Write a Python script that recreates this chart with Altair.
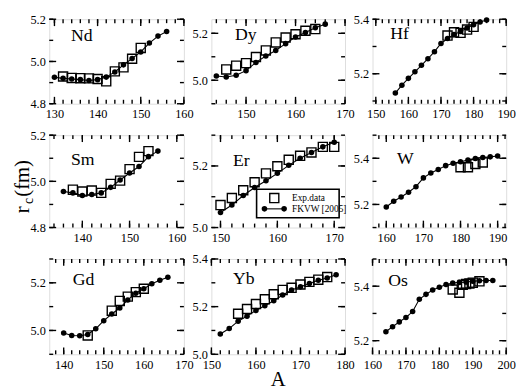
import altair as alt
import pandas as pd

FONT = "Liberation Serif"

# ---------------- data ----------------
nd_th_A = [130, 132, 134, 136, 138, 140, 142, 144, 146, 148, 150, 152, 154, 156]
nd_th_r = [4.925, 4.920, 4.917, 4.914, 4.910, 4.914, 4.926, 4.950, 4.984, 5.014, 5.045, 5.087, 5.120, 5.142]
nd_ex_A = [132, 134, 136, 138, 140, 142, 144, 146, 148, 150]
nd_ex_r = [4.929, 4.922, 4.921, 4.920, 4.917, 4.906, 4.953, 4.972, 5.013, 5.064]

dy_th_A = [144, 146, 148, 150, 152, 154, 156, 158, 160, 162, 164, 166]
dy_th_r = [5.018, 5.014, 5.021, 5.041, 5.076, 5.103, 5.127, 5.156, 5.184, 5.203, 5.224, 5.239]
dy_ex_A = [146, 148, 150, 152, 154, 156, 158, 160, 162, 164]
dy_ex_r = [5.046, 5.062, 5.073, 5.099, 5.127, 5.161, 5.182, 5.196, 5.211, 5.218]

hf_th_A = [156, 158, 160, 162, 164, 166, 168, 170, 172, 174, 176, 178, 180, 182, 184]
hf_th_r = [5.129, 5.158, 5.183, 5.207, 5.231, 5.255, 5.281, 5.311, 5.329, 5.344, 5.355, 5.368, 5.380, 5.390, 5.397]
hf_ex_A = [172, 174, 176, 178, 180]
hf_ex_r = [5.340, 5.352, 5.350, 5.362, 5.372]

sm_th_A = [136, 138, 140, 142, 144, 146, 148, 150, 152, 154, 156]
sm_th_r = [4.956, 4.950, 4.939, 4.943, 4.950, 4.974, 5.006, 5.036, 5.064, 5.107, 5.131]
sm_ex_A = [138, 140, 142, 144, 146, 148, 150, 152, 154]
sm_ex_r = [4.964, 4.956, 4.960, 4.950, 4.989, 5.003, 5.053, 5.106, 5.131]

er_th_A = [150, 152, 154, 156, 158, 160, 162, 164, 166, 168, 170]
er_th_r = [5.049, 5.073, 5.104, 5.130, 5.152, 5.176, 5.202, 5.225, 5.244, 5.262, 5.277]
er_ex_A = [150, 152, 154, 156, 158, 160, 162, 164, 166, 168, 170]
er_ex_r = [5.073, 5.096, 5.121, 5.147, 5.176, 5.199, 5.220, 5.233, 5.244, 5.262, 5.262]

w_th_A = [160, 162, 164, 166, 168, 170, 172, 174, 176, 178, 180, 182, 184, 186, 188, 190]
w_th_r = [5.189, 5.214, 5.232, 5.253, 5.277, 5.315, 5.336, 5.351, 5.368, 5.378, 5.385, 5.392, 5.399, 5.403, 5.406, 5.410]
w_ex_A = [180, 182, 184, 186]
w_ex_r = [5.361, 5.361, 5.375, 5.382]

gd_th_A = [140, 142, 144, 146, 148, 150, 152, 154, 156, 158, 160, 162, 164, 166]
gd_th_r = [4.989, 4.979, 4.978, 4.983, 5.007, 5.041, 5.069, 5.094, 5.128, 5.156, 5.175, 5.196, 5.211, 5.223]
gd_ex_A = [146, 152, 154, 156, 158, 160]
gd_ex_r = [4.979, 5.083, 5.124, 5.142, 5.161, 5.175]

yb_th_A = [152, 154, 156, 158, 160, 162, 164, 166, 168, 170, 172, 174, 176, 178]
yb_th_r = [5.085, 5.108, 5.139, 5.160, 5.184, 5.204, 5.225, 5.249, 5.270, 5.283, 5.297, 5.311, 5.320, 5.334]
yb_ex_A = [156, 158, 160, 162, 164, 166, 168, 170, 172, 174, 176]
yb_ex_r = [5.170, 5.190, 5.211, 5.231, 5.252, 5.270, 5.279, 5.293, 5.304, 5.313, 5.324]

os_th_A = [164, 166, 168, 170, 172, 174, 176, 178, 180, 182, 184, 186, 188, 190, 192, 194, 196]
os_th_r = [5.233, 5.251, 5.269, 5.285, 5.307, 5.352, 5.370, 5.386, 5.396, 5.406, 5.412, 5.414, 5.415, 5.418, 5.420, 5.421, 5.421]
os_ex_A = [184, 186, 187, 188, 189, 190, 192]
os_ex_r = [5.388, 5.376, 5.405, 5.408, 5.410, 5.413, 5.418]

elements = ["Nd", "Dy", "Hf", "Sm", "Er", "W", "Gd", "Yb", "Os"]
x_domains = [[128.8, 160], [143, 170], [149, 190],
             [133, 161.5], [148.4, 171.9], [156.3, 192.3],
             [136.4, 170], [150, 180], [160, 200]]
y_domains = [[4.8, 5.2], [4.9, 5.26], [5.09, 5.4],
             [4.8, 5.2], [5.0, 5.3], [5.1, 5.5],
             [4.9, 5.3], [5.0, 5.4], [5.15, 5.5]]
theory = [(nd_th_A, nd_th_r), (dy_th_A, dy_th_r), (hf_th_A, hf_th_r),
          (sm_th_A, sm_th_r), (er_th_A, er_th_r), (w_th_A, w_th_r),
          (gd_th_A, gd_th_r), (yb_th_A, yb_th_r), (os_th_A, os_th_r)]
expdata = [(nd_ex_A, nd_ex_r), (dy_ex_A, dy_ex_r), (hf_ex_A, hf_ex_r),
           (sm_ex_A, sm_ex_r), (er_ex_A, er_ex_r), (w_ex_A, w_ex_r),
           (gd_ex_A, gd_ex_r), (yb_ex_A, yb_ex_r), (os_ex_A, os_ex_r)]

legend_labels = ["Exp.data", "FKVW [2005]"]
y_title_parts = ["r", "c", "(fm)"]
x_title = "A"

# ---------------- layout (style only) ----------------
col_w = [137, 136, 136]
row_h = [86, 94, 97]
label_pos = [(22, 22), (24, 21), (18, 20),
             (22, 30), (22, 31), (25, 29),
             (24, 26), (22, 25), (16, 27)]


def tick_values(lo, hi, step):
    out = []
    k = int(lo // step) - 1
    while k * step <= hi + 1e-9:
        v = round(k * step, 4)
        if lo - 1e-9 <= v <= hi + 1e-9:
            out.append(v)
        k += 1
    return out


def value_df(vals):
    return pd.DataFrame({"v": vals})


def panel(i):
    w = col_w[i % 3]
    h = row_h[i // 3]
    xd, yd = x_domains[i], y_domains[i]
    xs = alt.Scale(domain=xd, nice=False, zero=False)
    ys = alt.Scale(domain=yd, nice=False, zero=False)
    xmaj = tick_values(xd[0], xd[1], 10)
    xmin = tick_values(xd[0], xd[1], 2)
    ymaj = tick_values(yd[0], yd[1], 0.2)
    ymin = tick_values(yd[0], yd[1], 0.1)
    xaxis = alt.Axis(values=xmaj, format="d", ticks=False, domain=False, grid=False,
                     labelFont=FONT, labelFontSize=12.5, labelPadding=4, labelColor="black",
                     labelFlush=False, labelOverlap=False, title=None)
    yaxis = alt.Axis(values=ymaj, format=".1f", ticks=False, domain=False, grid=False,
                     labelFont=FONT, labelFontSize=12.5, labelPadding=4, labelColor="black",
                     labelFlush=False, labelOverlap=False, title=None)
    X = lambda f: alt.X(f, scale=xs, axis=xaxis)
    Y = lambda f: alt.Y(f, scale=ys, axis=yaxis)

    layers = []
    for vals, L in ((xmaj, 7), (xmin, 4)):
        d = value_df(vals)
        layers.append(alt.Chart(d).mark_rule(color="black", strokeWidth=1.4).encode(
            x=X("v:Q"), y=alt.value(h), y2=alt.value(h - L)))
        layers.append(alt.Chart(d).mark_rule(color="black", strokeWidth=1.4).encode(
            x=X("v:Q"), y=alt.value(0), y2=alt.value(L)))
    for vals, L in ((ymaj, 7), (ymin, 4)):
        d = value_df(vals)
        layers.append(alt.Chart(d).mark_rule(color="black", strokeWidth=1.4).encode(
            y=Y("v:Q"), x=alt.value(0), x2=alt.value(L)))
        layers.append(alt.Chart(d).mark_rule(color="black", strokeWidth=1.4).encode(
            y=Y("v:Q"), x=alt.value(w), x2=alt.value(w - L)))

    ex = pd.DataFrame({"A": expdata[i][0], "r": expdata[i][1]})
    th = pd.DataFrame({"A": theory[i][0], "r": theory[i][1]})
    layers.append(alt.Chart(ex).mark_point(shape="square", filled=False, size=85, color="black",
                                           strokeWidth=1.4, opacity=1).encode(x=X("A:Q"), y=Y("r:Q")))
    layers.append(alt.Chart(th).mark_line(color="black", strokeWidth=1.1).encode(x=X("A:Q"), y=Y("r:Q")))
    layers.append(alt.Chart(th).mark_circle(size=32, color="black", opacity=1).encode(x=X("A:Q"), y=Y("r:Q")))

    lx, ly = label_pos[i]
    layers.append(alt.Chart(pd.DataFrame({"t": [elements[i]]})).mark_text(
        align="left", baseline="alphabetic", font=FONT, fontSize=18, color="black").encode(
        text="t:N", x=alt.value(lx), y=alt.value(ly)))

    if elements[i] == "Er":
        one = pd.DataFrame({"k": [0]})
        layers.append(alt.Chart(one).mark_rect(fill="white", stroke="black", strokeWidth=1.6).encode(
            x=alt.value(46), x2=alt.value(130), y=alt.value(55), y2=alt.value(84)))
        layers.append(alt.Chart(one).mark_point(shape="square", filled=False, size=85, color="black",
                                                strokeWidth=1.4, opacity=1).encode(
            x=alt.value(64), y=alt.value(64)))
        layers.append(alt.Chart(one).mark_rule(color="black", strokeWidth=1.1).encode(
            x=alt.value(54), x2=alt.value(74), y=alt.value(75)))
        for cx in (54, 74):
            layers.append(alt.Chart(one).mark_circle(size=32, color="black", opacity=1).encode(
                x=alt.value(cx), y=alt.value(75)))
        for txt, ty in zip(legend_labels, (64, 75)):
            layers.append(alt.Chart(pd.DataFrame({"t": [txt]})).mark_text(
                align="left", baseline="middle", font=FONT, fontSize=9.5, color="black").encode(
                text="t:N", x=alt.value(82), y=alt.value(ty)))

    if elements[i] == "Sm":
        for txt, tx, ty, fs in ((y_title_parts[0], -21, 76, 21),
                                (y_title_parts[1], -17, 67, 14),
                                (y_title_parts[2], -21, 44, 21)):
            layers.append(alt.Chart(pd.DataFrame({"t": [txt]})).mark_text(
                align="center", baseline="alphabetic", angle=270, font=FONT, fontSize=fs,
                color="black").encode(text="t:N", x=alt.value(tx), y=alt.value(ty)))

    if elements[i] == "Yb":
        layers.append(alt.Chart(pd.DataFrame({"t": [x_title]})).mark_text(
            align="center", baseline="alphabetic", font=FONT, fontSize=21, color="black").encode(
            text="t:N", x=alt.value(w / 2), y=alt.value(h + 32)))

    return alt.layer(*layers).properties(width=w, height=h)


chart = alt.concat(*[panel(i) for i in range(9)], columns=3,
                   spacing={"row": 32, "column": 28}, bounds="flush").properties(
    padding={"left": 3, "top": 1, "right": 0, "bottom": 0}
).configure_view(stroke="black", strokeWidth=1.9).configure(background="white")

chart.save("out.html", embed_options={"renderer": "svg", "actions": False})
